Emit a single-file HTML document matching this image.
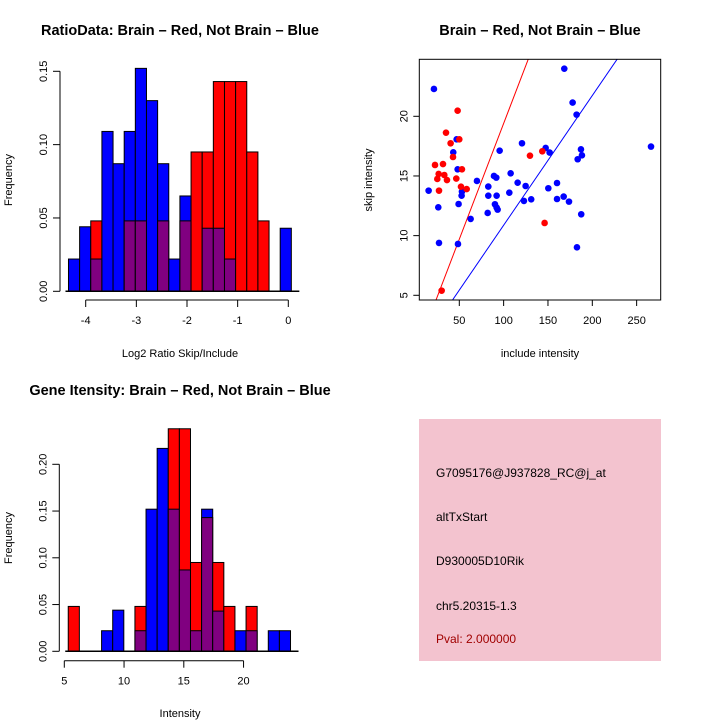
<!DOCTYPE html>
<html><head><meta charset="utf-8"><style>
html,body{margin:0;padding:0;background:#fff;}
svg{display:block;font-family:"Liberation Sans",sans-serif;}
</style></head><body>
<svg id="s" width="720" height="720" viewBox="0 0 720 720">
<rect width="720" height="720" fill="#fff"/>
<text x="180" y="35" text-anchor="middle" font-size="14.5" font-weight="bold">RatioData: Brain – Red, Not Brain – Blue</text>
<text x="540" y="35" text-anchor="middle" font-size="14.5" font-weight="bold">Brain – Red, Not Brain – Blue</text>
<text x="180" y="395" text-anchor="middle" font-size="14.5" font-weight="bold">Gene Itensity: Brain – Red, Not Brain – Blue</text>
<text x="180" y="357" text-anchor="middle" font-size="11">Log2 Ratio Skip/Include</text>
<text x="540" y="357" text-anchor="middle" font-size="11">include intensity</text>
<text x="180" y="717" text-anchor="middle" font-size="11">Intensity</text>
<text transform="translate(12,180) rotate(-90)" text-anchor="middle" font-size="11">Frequency</text>
<text transform="translate(372,180) rotate(-90)" text-anchor="middle" font-size="11">skip intensity</text>
<text transform="translate(12,538) rotate(-90)" text-anchor="middle" font-size="11">Frequency</text>
<g>
<rect x="419" y="419" width="242" height="242" fill="#f3c3cf"/>
<text x="436" y="477" font-size="12">G7095176@J937828_RC@j_at</text>
<text x="436" y="521" font-size="12">altTxStart</text>
<text x="436" y="565" font-size="12">D930005D10Rik</text>
<text x="436" y="610" font-size="12">chr5.20315-1.3</text>
<text x="436" y="643" font-size="12" fill="#a00000">Pval: 2.000000</text>
</g>
</svg>
<script>
// Ratio histogram data
const ratioBlue = [0.022,0.044,0.022,0.109,0.087,0.109,0.152,0.130,0.087,0.022,0.065,0,0.043,0.043,0.022,0,0,0,0,0.043];
const ratioRed  = [0,0,0.048,0,0,0.048,0.048,0,0.048,0,0.048,0.095,0.095,0.143,0.143,0.143,0.095,0.048,0,0];
const ratioStart = -4.34, ratioBin = 0.22;
const ratioXTicks = [-4,-3,-2,-1,0];
const ratioYTicks = ["0.00","0.05","0.10","0.15"];
// Intensity histogram data
const intBlue = [0,0,0,0.022,0.044,0,0.022,0.152,0.217,0.152,0.087,0.022,0.152,0.043,0,0.022,0.022,0,0.022,0.022];
const intRed  = [0.048,0,0,0,0,0,0.048,0,0,0.238,0.238,0.095,0.143,0.095,0.048,0,0.048,0,0,0];
const intStart = 5.33, intBin = 0.93;
const intXTicks = [5,10,15,20];
const intYTicks = ["0.00","0.05","0.10","0.15","0.20"];
// Scatter data
const redX = [48.1,35.0,40.2,50,42.9,22.6,31.6,26.7,33.1,25.2,36.1,46.6,53,27.1,51.9,58.3,30.1,129.7,143.6,146.2];
const redY = [20.47,18.63,17.74,18.07,16.59,15.92,16.0,15.17,15.08,14.75,14.66,14.78,15.56,13.77,14.1,13.9,5.39,16.7,17.07,11.06];
const blueX = [21.4,168.4,177.8,182.3,47,43.2,48.1,15.4,26.3,49.2,27.1,48.5,53,52.6,69.9,62.8,82.7,82.7,82,89.1,91.7,92.1,90.2,92.1,93.2,95.5,107.9,106.4,115.8,120.7,124.8,122.9,131.1,147.4,151.9,150.4,160.2,160.2,167.7,173.7,187.5,182.7,183.5,187.2,188.3,266.2];
const blueY = [22.29,23.99,21.15,20.14,18.07,16.98,15.56,13.77,12.37,12.65,9.39,9.30,13.69,13.35,14.58,11.40,14.11,13.35,11.9,15.0,14.86,13.35,12.63,12.35,12.18,17.12,15.22,13.6,14.44,17.74,14.16,12.91,13.04,17.35,16.96,13.97,14.41,13.07,13.27,12.85,11.79,9.02,16.4,17.23,16.73,17.46];
const redSlope = 0.194, blueSlope = 0.1087;
const scXTicks = [50,100,150,200,250];
const scYTicks = [5,10,15,20];

const svg = document.getElementById('s');
const NS = 'http://www.w3.org/2000/svg';
function mk(tag, attrs, parent){
  const e = document.createElementNS(NS, tag);
  for (const k in attrs) e.setAttribute(k, attrs[k]);
  (parent||svg).appendChild(e);
  return e;
}

function hist(cfg){
  const g = mk('g', {});
  
  
  const sx = v => cfg.x0px + (v - cfg.x0) * cfg.xs;
  const sy = v => cfg.y0px - v * cfg.ys;
  const n = cfg.blue.length;
  for (let i = 0; i < n; i++){
    const l = sx(cfg.start + i*cfg.bin), r = sx(cfg.start + (i+1)*cfg.bin);
    const b = cfg.blue[i], rd = cfg.red[i];
    const draw = (v, col, nm) => {
      if (v <= 0) return;
      const el = mk('rect', {x:l, y:sy(v), width:r-l, height:sy(0)-sy(v), fill:col, stroke:'#000', 'stroke-width':1}, g);
      
      
    };
    if (b >= rd){ draw(b,'#0000ff','bar-blue'); draw(Math.min(b,rd),'#800080','bar-overlap'); }
    else { draw(rd,'#ff0000','bar-red'); draw(Math.min(b,rd),'#800080','bar-overlap'); }
  }
  mk('line',{x1:sx(cfg.start)-3,x2:sx(cfg.start+n*cfg.bin)+8,y1:sy(0),y2:sy(0),stroke:'#000','stroke-width':1.5},g);
  const yv = cfg.yTicks.map(Number);
  const ya = mk('g',{},g);
  
  
  mk('line',{x1:cfg.yAxisX,x2:cfg.yAxisX,y1:sy(yv[0]),y2:sy(yv[yv.length-1]),stroke:'#000'},ya);
  cfg.yTicks.forEach((t,i)=>{
    const y = sy(yv[i]);
    mk('line',{x1:cfg.yAxisX-7,x2:cfg.yAxisX,y1:y,y2:y,stroke:'#000'},ya);
    const tx = mk('text',{transform:`translate(${cfg.yAxisX-13},${y}) rotate(-90)`,'text-anchor':'middle','font-size':11},ya);
    tx.textContent = t;
    
    
  });
  const xa = mk('g',{},g);
  
  
  const xt = cfg.xTicks;
  mk('line',{x1:sx(xt[0]),x2:sx(xt[xt.length-1]),y1:cfg.xAxisY,y2:cfg.xAxisY,stroke:'#000'},xa);
  xt.forEach(t=>{
    const x = sx(t);
    mk('line',{x1:x,x2:x,y1:cfg.xAxisY,y2:cfg.xAxisY+7,stroke:'#000'},xa);
    const tx = mk('text',{x:x,y:cfg.xAxisY+24,'text-anchor':'middle','font-size':11},xa);
    tx.textContent = t;
    
    
  });
}

hist({name:'ratio-histogram', blue:ratioBlue, red:ratioRed, start:ratioStart, bin:ratioBin,
  x0:-4, x0px:85.7, xs:50.65, y0px:291.3, ys:1466.7, yAxisX:60, xAxisY:300,
  xTicks:ratioXTicks, yTicks:ratioYTicks});
hist({name:'intensity-histogram', blue:intBlue, red:intRed, start:intStart, bin:intBin,
  x0:5, x0px:64.3, xs:11.95, y0px:651.3, ys:935, yAxisX:59.3, xAxisY:660.7,
  xTicks:intXTicks, yTicks:intYTicks});

(function(){
  const L=419.3,R=660.7,T=59.3,B=300;
  const sx = v => 459.3 + (v-50)*0.8867;
  const sy = v => 116.3 - (v-20)*11.933;
  const g = mk('g',{});
  
  
  const cp = mk('clipPath',{id:'scclip'},g);
  mk('rect',{x:L,y:T,width:R-L,height:B-T},cp);
  const lines = mk('g',{'clip-path':'url(#scclip)'},g);
  [[redSlope,'#ff0000','red-fit-line'],[blueSlope,'#0000ff','blue-fit-line']].forEach(([s,c,n])=>{
    const x1=0,x2=300;
    const ln = mk('line',{x1:sx(x1),y1:sy(s*x1),x2:sx(x2),y2:sy(s*x2),stroke:c,'stroke-width':1},lines);
    
    
  });
  blueX.forEach((x,i)=>{
    const c = mk('circle',{cx:sx(x),cy:sy(blueY[i]),r:3.3,fill:'#0000ff'},g);
    
    
  });
  redX.forEach((x,i)=>{
    const c = mk('circle',{cx:sx(x),cy:sy(redY[i]),r:3.3,fill:'#ff0000'},g);
    
    
  });
  mk('rect',{x:L,y:T,width:R-L,height:B-T,fill:'none',stroke:'#000','stroke-width':1},g);
  scXTicks.forEach(t=>{
    const x=sx(t);
    mk('line',{x1:x,x2:x,y1:B,y2:B+6,stroke:'#000'},g);
    const tx = mk('text',{x:x,y:B+24,'text-anchor':'middle','font-size':11},g);
    tx.textContent=t;
    
    
  });
  scYTicks.forEach(t=>{
    const y=sy(t);
    mk('line',{x1:L-6,x2:L,y1:y,y2:y,stroke:'#000'},g);
    const tx = mk('text',{transform:`translate(${L-12},${y}) rotate(-90)`,'text-anchor':'middle','font-size':11},g);
    tx.textContent=t;
    
    
  });
})();
</script>
</body></html>
